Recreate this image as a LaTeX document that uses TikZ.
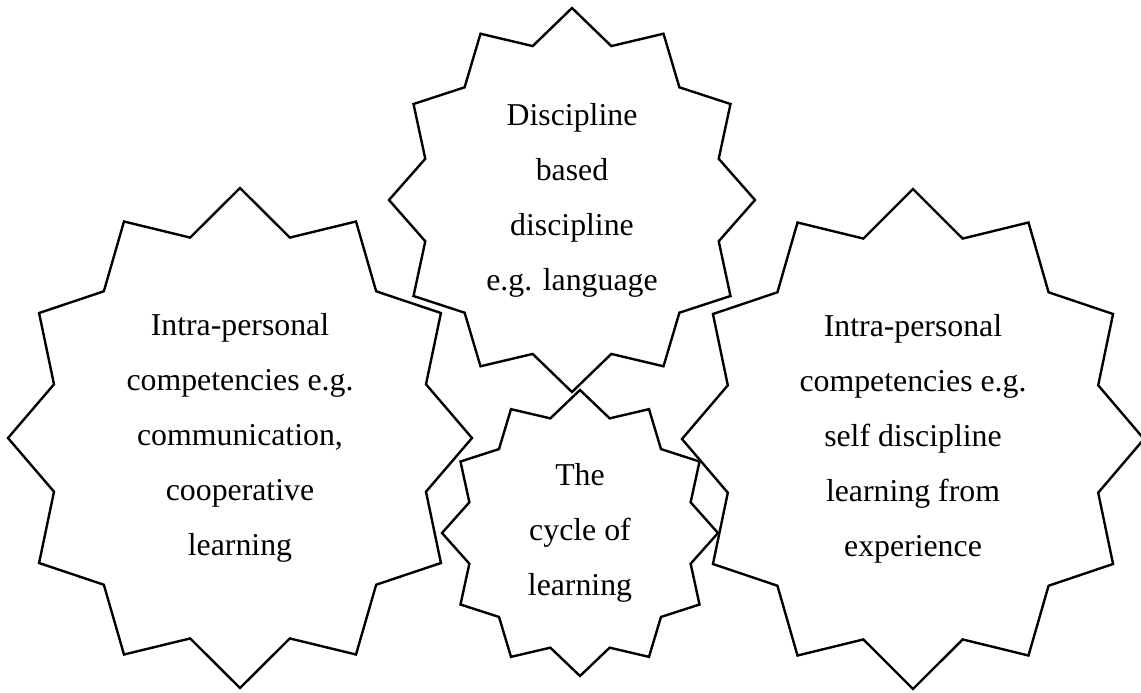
\documentclass[tikz,border=0pt]{standalone}
\usepackage{fontspec}
\setmainfont{Liberation Serif}
\tikzset{
  sealtext/.style = {align=center, inner sep=0, font=\fontsize{15.9}{27.5}\selectfont},
  sealline/.style = {draw, line width=1.2pt, line join=miter},
}

\begin{document}
\begin{tikzpicture}[x=0.5pt, y=-0.5pt]
        \useasboundingbox (0,0) rectangle (1141,692);
        % text of the four seals
        \node (leftseal) [sealtext] at (240,438) {Intra-personal\\competencies e.g.\\communication,\\cooperative\\learning};
        \node (topseal) [sealtext] at (572,200) {Discipline\\based\\discipline\\e.g. language};
        \node (cycleseal) [sealtext] at (580,533) {The\\cycle of\\learning};
        \node (rightseal) [sealtext] at (913,439) {Intra-personal\\competencies e.g.\\self discipline\\learning from\\experience};

        % twelve pointed outlines round them
        \foreach \n/\rx/\ry in {
          leftseal/232/250,
          topseal/183/192,
          cycleseal/138/143,
          rightseal/231/250%
        }{
          \draw [sealline, shift={(\n.center)}]
            plot [samples at={0,15,...,345}]
            (\x:{\rx*(1-0.17*mod(\x/15,2))} and {\ry*(1-0.17*mod(\x/15,2))}) -- cycle;
        }
      \end{tikzpicture}
\end{document}
